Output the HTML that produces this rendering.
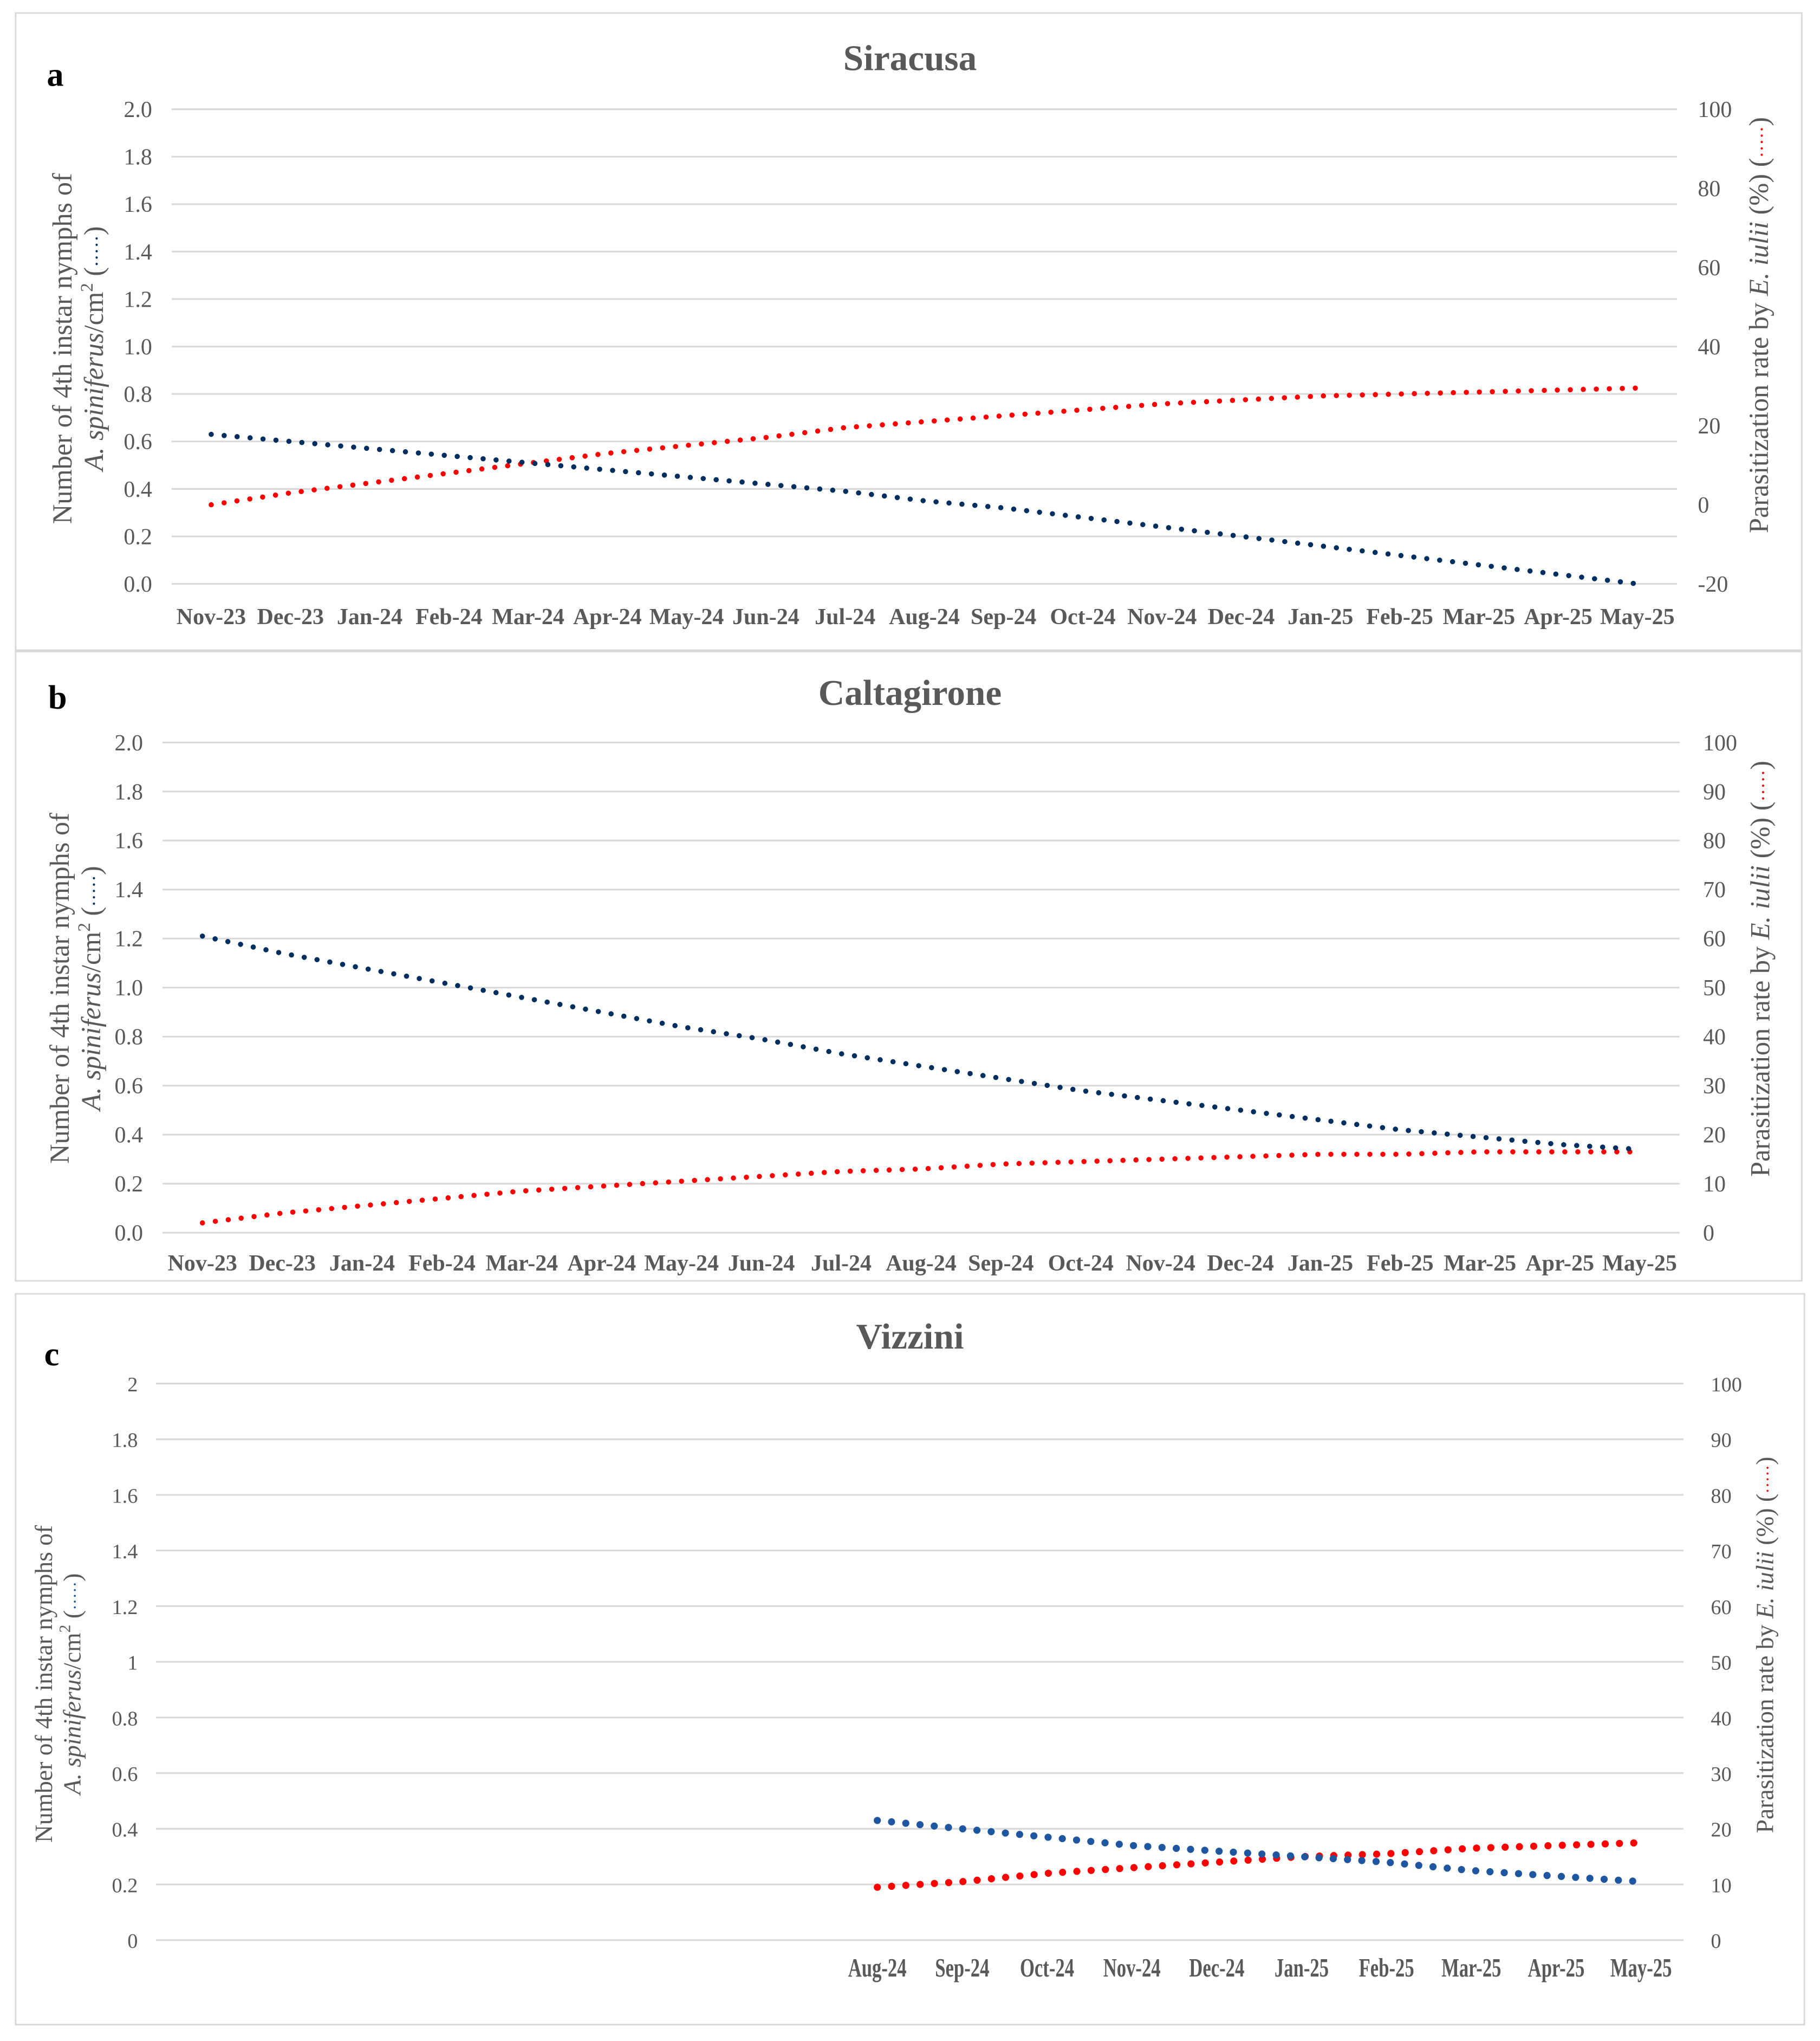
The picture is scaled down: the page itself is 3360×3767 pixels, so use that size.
<!DOCTYPE html>
<html><head><meta charset="utf-8"><style>
html,body{margin:0;padding:0;background:#fff;}
svg{display:block;}
text{font-family:"Liberation Serif",serif;}
</style></head>
<body>
<svg id="fig" width="3360" height="3767" viewBox="0 0 1400 1569.6" xmlns="http://www.w3.org/2000/svg">
<rect x="0" y="0" width="1400" height="1569.6" fill="#fff"/>
</svg>
<script>
// ---- Panel a: Siracusa ----
const catsA = ["Nov-23","Dec-23","Jan-24","Feb-24","Mar-24","Apr-24","May-24","Jun-24","Jul-24","Aug-24","Sep-24","Oct-24","Nov-24","Dec-24","Jan-25","Feb-25","Mar-25","Apr-25","May-25"];
const nymphsA = [0.63,0.60,0.57,0.54,0.51,0.48,0.45,0.42,0.39,0.35,0.32,0.28,0.24,0.20,0.16,0.12,0.08,0.04,0.0];
const parasA = [0,3,5.5,8,10.5,13,15,17,19.5,21,22.5,24,25.5,26.5,27.5,28,28.5,29,29.5];
const leftTicksA = ["0.0","0.2","0.4","0.6","0.8","1.0","1.2","1.4","1.6","1.8","2.0"];
const rightTicksA = ["-20","0","20","40","60","80","100"];
// ---- Panel b: Caltagirone ----
const catsB = catsA;
const nymphsB = [1.21,1.14,1.08,1.02,0.96,0.90,0.84,0.79,0.73,0.68,0.63,0.58,0.54,0.50,0.46,0.42,0.39,0.36,0.34];
const parasB = [2,4,5.5,7,8.5,9.5,10.5,11.5,12.5,13,14,14.5,15,15.5,16,16,16.5,16.5,16.5];
const leftTicksB = leftTicksA;
const rightTicksB = ["0","10","20","30","40","50","60","70","80","90","100"];
// ---- Panel c: Vizzini ----
const catsC = ["","","","","","","","","Aug-24","Sep-24","Oct-24","Nov-24","Dec-24","Jan-25","Feb-25","Mar-25","Apr-25","May-25"];
const nymphsC = [null,null,null,null,null,null,null,null,0.43,0.40,0.37,0.34,0.32,0.30,0.28,0.25,0.23,0.21];
const parasC = [null,null,null,null,null,null,null,null,9.5,10.5,12,13,14,15,15.5,16.5,17,17.5];
const leftTicksC = ["0","0.2","0.4","0.6","0.8","1","1.2","1.4","1.6","1.8","2"];
const rightTicksC = rightTicksB;

const NS="http://www.w3.org/2000/svg";
const svg=document.getElementById('fig');
function mk(tag,attrs,parent){const e=document.createElementNS(NS,tag);for(const k in attrs)e.setAttribute(k,attrs[k]);(parent||svg).appendChild(e);return e;}

function panel(cfg){
  const g=mk('g',{});
  
  
  const box=mk('rect',{x:cfg.bx,y:cfg.by,width:cfg.bw,height:cfg.bh,fill:'none',stroke:'#d9d9d9','stroke-width':1.2},g);
  
  
  const lab=mk('text',{x:cfg.lx,y:cfg.ly,'font-size':26,'font-weight':'bold',fill:'#000'},g);
  lab.textContent=cfg.letter;
  
  
  const t=mk('text',{x:700,y:cfg.ty,'font-size':28,'font-weight':'bold',fill:'#595959','text-anchor':'middle'},g);
  t.textContent=cfg.title;
  
  
  const n=cfg.cats.length, band=(cfg.x1-cfg.x0)/n;
  const xs=i=>cfg.x0+band*(i+0.5);
  const yl=v=>cfg.y0+(v-cfg.lmin)/(cfg.lmax-cfg.lmin)*(cfg.y1-cfg.y0);
  const yr=v=>cfg.y0+(v-cfg.rmin)/(cfg.rmax-cfg.rmin)*(cfg.y1-cfg.y0);
  const nl=cfg.lt.length;
  cfg.lt.forEach((s,i)=>{
    const v=cfg.lmin+(cfg.lmax-cfg.lmin)*i/(nl-1);
    const gl=mk('line',{x1:cfg.x0,x2:cfg.x1,y1:yl(v),y2:yl(v),stroke:'#d9d9d9','stroke-width':1.3},g);
    
    
    const tx=mk('text',{x:cfg.ltx,y:yl(v)+6,'font-size':cfg.tfs,fill:'#595959','text-anchor':'end'},g);
    tx.textContent=s;
    
    
  });
  const nr=cfg.rt.length;
  cfg.rt.forEach((s,i)=>{
    const v=cfg.rmin+(cfg.rmax-cfg.rmin)*i/(nr-1);
    const tx=mk('text',{x:cfg.rtx,y:yr(v)+6,'font-size':cfg.tfs,fill:'#595959','text-anchor':'start'},g);
    tx.textContent=s;
    
    
  });
  cfg.cats.forEach((c,i)=>{
    if(!c)return;
    const tx=mk('text',{x:xs(i),y:cfg.xly,'font-size':cfg.xfs,'font-weight':cfg.xfw,fill:'#595959','text-anchor':'middle'},g);
    if(cfg.condensed){tx.setAttribute('transform',`translate(${xs(i)},0) scale(0.85,1.2) translate(${-xs(i)},0)`);tx.setAttribute('y',cfg.xly/1.2);}
    tx.textContent=c;
    
    
  });
  function series(vals,yf,color,name){
    let d='';
    vals.forEach((v,i)=>{if(v==null)return;d+=(d?'L':'M')+xs(i)+' '+yf(v);});
    const p=mk('path',{d:d,fill:'none',stroke:color,'stroke-width':cfg.sw,'stroke-linecap':'round','stroke-dasharray':'0 '+cfg.gap},g);
    
    
  }
  series(cfg.par,yr,'#ff0000','parasitization-series');
  series(cfg.nym,yl,cfg.blue,'nymphs-series');
  const lt=mk('text',{transform:`translate(${cfg.ltitx},${cfg.ltity}) rotate(-90)`,'font-size':cfg.afs,fill:'#595959','text-anchor':'middle'},g);
  
  
  const t1=mk('tspan',{x:0,y:0},lt);t1.textContent='Number of 4th instar nymphs of';
  const t2=mk('tspan',{x:0,y:cfg.afs*1.15},lt);
  const ti=mk('tspan',{'font-style':'italic'},t2);ti.textContent='A. spiniferus';
  const tn=mk('tspan',{},t2);tn.textContent='/cm';
  const ts=mk('tspan',{dy:-8,'font-size':cfg.afs*0.65},t2);ts.textContent='2';
  const tp=mk('tspan',{dy:8},t2);tp.textContent=' (';
  const td=mk('tspan',{fill:cfg.blue,'font-size':cfg.afs*0.7},t2);td.textContent='·····';
  const tc=mk('tspan',{},t2);tc.textContent=')';
  const rt=mk('text',{transform:`translate(${cfg.rtitx},${cfg.rtity}) rotate(-90)`,'font-size':cfg.afs,fill:'#595959','text-anchor':'middle'},g);
  
  
  const r1=mk('tspan',{},rt);r1.textContent='Parasitization rate by ';
  const r2=mk('tspan',{'font-style':'italic'},rt);r2.textContent='E. iulii';
  const r3=mk('tspan',{},rt);r3.textContent=' (%) (';
  const r4=mk('tspan',{fill:'#ff0000','font-size':cfg.afs*0.7},rt);r4.textContent='·····';
  const r5=mk('tspan',{},rt);r5.textContent=')';
}

panel({name:'chart-siracusa',letter:'a',title:'Siracusa',bx:12,by:10,bw:1374,bh:490,lx:36,ly:66,ty:54,
  cats:catsA,nym:nymphsA,par:parasA,lt:leftTicksA,rt:rightTicksA,x0:132,x1:1290,y0:449,y1:84,
  lmin:0,lmax:2,rmin:-20,rmax:100,ltx:117,rtx:1306,xly:480,tfs:17.5,xfs:17.5,xfw:'bold',sw:4,gap:10,blue:'#002f5f',
  afs:21,ltitx:55,ltity:268,rtitx:1360,rtity:250});
panel({name:'chart-caltagirone',letter:'b',title:'Caltagirone',bx:12,by:501,bw:1374,bh:484,lx:37,ly:545,ty:542,
  cats:catsB,nym:nymphsB,par:parasB,lt:leftTicksB,rt:rightTicksB,x0:125,x1:1292,y0:948,y1:571,
  lmin:0,lmax:2,rmin:0,rmax:100,ltx:110,rtx:1310,xly:977,tfs:17.5,xfs:17.5,xfw:'bold',sw:4,gap:10,blue:'#002f5f',
  afs:21,ltitx:53,ltity:760,rtitx:1361,rtity:745});
panel({name:'chart-vizzini',letter:'c',title:'Vizzini',bx:12,by:995,bw:1376,bh:562,lx:34,ly:1050,ty:1037,
  cats:catsC,nym:nymphsC,par:parasC,lt:leftTicksC,rt:rightTicksC,x0:120,x1:1295,y0:1492,y1:1064,
  lmin:0,lmax:2,rmin:0,rmax:100,ltx:106,rtx:1316,xly:1520,tfs:16,xfs:17,xfw:'bold',sw:5.5,gap:11,blue:'#1f56a0',condensed:true,
  afs:19,ltitx:40,ltity:1295,rtitx:1364,rtity:1265});
</script>
</body></html>
